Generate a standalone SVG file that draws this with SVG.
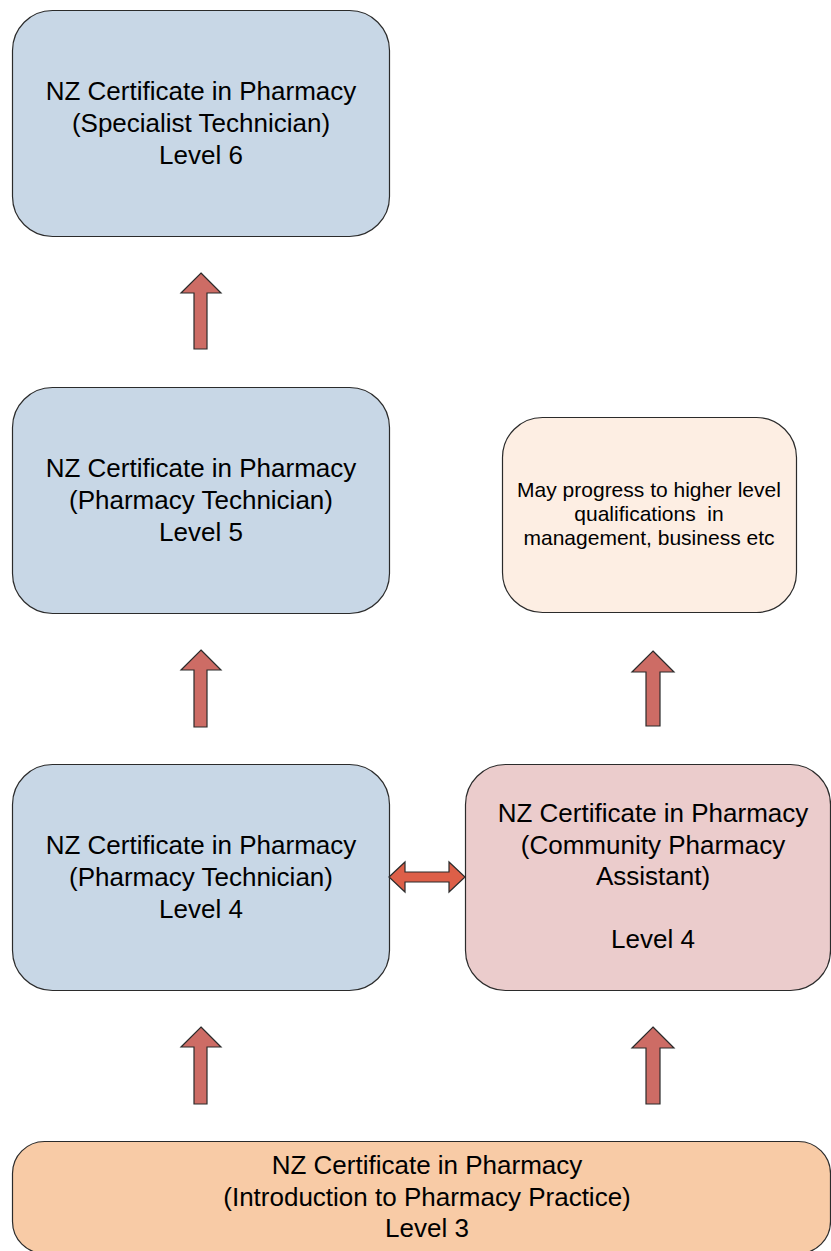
<svg xmlns="http://www.w3.org/2000/svg" width="831" height="1251" viewBox="0 0 831 1251">
<style>
.box{stroke:#2b2b2b;stroke-width:1.2}
.blue{fill:#c8d7e6}
.pink{fill:#ebcccc}
.peach{fill:#fdeee3}
.orange{fill:#f8cba6}
.t{font-family:"Liberation Sans",Arial,sans-serif;font-size:26px;fill:#000;text-anchor:middle}
.s{font-family:"Liberation Sans",Arial,sans-serif;font-size:21px;fill:#000;text-anchor:middle}
.arr{fill:#cd6c65;stroke:#2b2b2b;stroke-width:1.2;stroke-linejoin:miter}
.darr{fill:#dd5f48;stroke:#2b2b2b;stroke-width:1.2}
</style>
<rect width="831" height="1251" fill="#fff"/>
<g id="level6">
<rect class="box blue" x="12.5" y="10.5" width="377" height="226" rx="40"/>
<text class="t" x="201" y="100">NZ Certificate in Pharmacy</text>
<text class="t" x="201" y="132">(Specialist Technician)</text>
<text class="t" x="201" y="164">Level 6</text>
</g>
<g id="level5">
<rect class="box blue" x="12.5" y="387.5" width="377" height="226" rx="40"/>
<text class="t" x="201" y="477">NZ Certificate in Pharmacy</text>
<text class="t" x="201" y="509">(Pharmacy Technician)</text>
<text class="t" x="201" y="541">Level 5</text>
</g>
<g id="higher">
<rect class="box peach" x="502.5" y="417.5" width="294" height="195" rx="40"/>
<text class="s" x="649" y="497">May progress to higher level</text>
<text class="s" x="649" y="521" xml:space="preserve">qualifications  in</text>
<text class="s" x="649" y="545">management, business etc</text>
</g>
<g id="level4tech">
<rect class="box blue" x="12.5" y="764.5" width="377" height="226" rx="40"/>
<text class="t" x="201" y="854">NZ Certificate in Pharmacy</text>
<text class="t" x="201" y="886">(Pharmacy Technician)</text>
<text class="t" x="201" y="918">Level 4</text>
</g>
<g id="level4assist">
<rect class="box pink" x="465.5" y="764.5" width="365" height="226" rx="40"/>
<text class="t" x="653" y="822">NZ Certificate in Pharmacy</text>
<text class="t" x="653" y="854">(Community Pharmacy</text>
<text class="t" x="653" y="885">Assistant)</text>
<text class="t" x="653" y="948">Level 4</text>
</g>
<g id="level3">
<rect class="box orange" x="12.5" y="1141.5" width="818" height="112" rx="32"/>
<text class="t" x="427" y="1174">NZ Certificate in Pharmacy</text>
<text class="t" x="427" y="1206">(Introduction to Pharmacy Practice)</text>
<text class="t" x="427" y="1237">Level 3</text>
</g>
<g id="connectors">
<polygon class="arr" points="201,273 221,293 207,293 207,349 194,349 194,293 181,293"/>
<polygon class="arr" points="201,650 221,670 207,670 207,727 194,727 194,670 181,670"/>
<polygon class="arr" points="653,651 674,672 660,672 660,726 646,726 646,672 632,672"/>
<polygon class="arr" points="201,1027 221,1047 207,1047 207,1104 194,1104 194,1047 181,1047"/>
<polygon class="arr" points="653,1027 674,1048 660,1048 660,1104 646,1104 646,1048 632,1048"/>
<polygon class="darr" points="389,877 405,862 405,872 449,872 449,862 465,877 449,892 449,882 405,882 405,892"/>
</g>
</svg>
